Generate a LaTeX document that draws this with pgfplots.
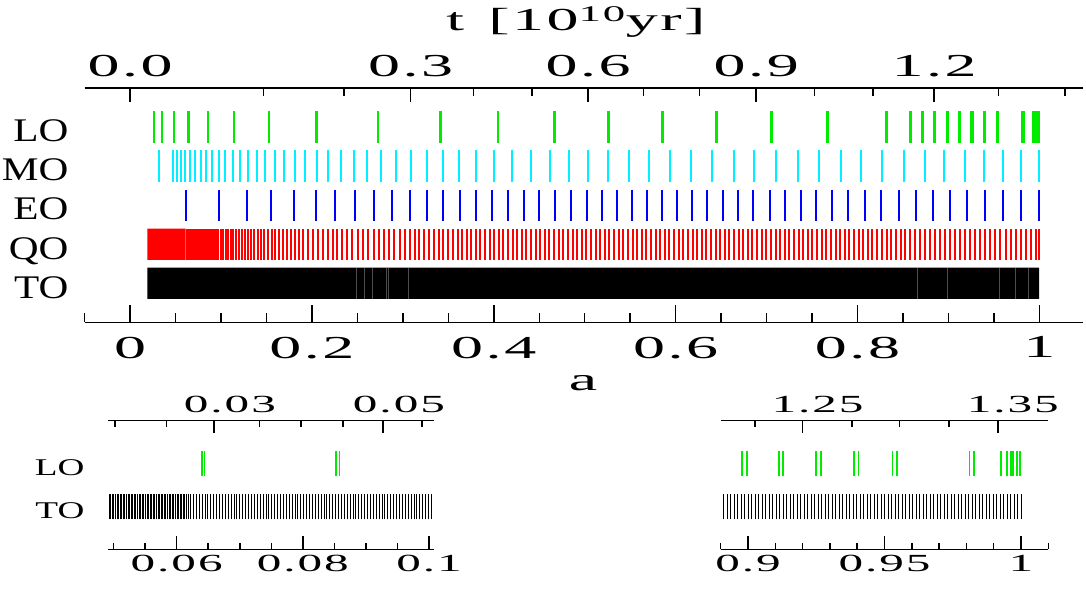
\documentclass[border=0pt]{standalone}
\usepackage{fontspec}
\setmainfont{Liberation Serif}
\newfontfamily\tickfont[FakeStretch=2,LetterSpace=8]{Liberation Serif}
\newfontfamily\labfont[FakeStretch=1.25]{Liberation Serif}
\newfontfamily\slabfont[FakeStretch=1.55]{Liberation Serif}
\usepackage{pgfplots}
\usepackage{pgfplotstable}
\pgfplotsset{compat=1.18}
\definecolor{cgreen}{RGB}{0,235,0}
\definecolor{ccyan}{RGB}{0,240,255}
\definecolor{cblue}{RGB}{0,0,255}
\definecolor{cred}{RGB}{255,0,0}

% ---------- main panel data (scale factor a) ----------
\pgfplotstableread[header=false,row sep=\\]{
0.0262\\0.0266\\0.0351\\0.0355\\0.0479\\0.0483\\0.0640\\0.0644\\0.0853\\0.0858\\
0.1139\\0.1145\\0.1528\\0.1534\\0.2045\\0.2053\\0.2725\\0.2733\\0.3407\\0.3417\\
0.4042\\0.4052\\0.4659\\0.4669\\0.5251\\0.5263\\0.5851\\0.5863\\0.6446\\0.6458\\
0.7051\\0.7065\\0.7668\\0.7682\\0.8314\\0.8328\\0.8574\\0.8590\\0.8703\\0.8719\\
0.8839\\0.8855\\0.8979\\0.8995\\0.9114\\0.9129\\0.9250\\0.9266\\0.9389\\0.9405\\
0.9529\\0.9547\\0.9811\\0.9828\\0.9928\\0.9950\\0.9962\\0.9972\\0.9984\\0.9996\\
}\LOdata

\pgfplotstableread[header=false,row sep=\\]{
0.0319\\0.0477\\0.0514\\0.0559\\0.0606\\0.0661\\0.0716\\0.0775\\0.0837\\0.0903\\
0.0973\\0.1047\\0.1127\\0.1212\\0.1294\\0.1391\\0.1487\\0.1590\\0.1697\\0.1812\\
0.1928\\0.2055\\0.2181\\0.2321\\0.2460\\0.2608\\0.2765\\0.2923\\0.3085\\0.3261\\
0.3437\\0.3621\\0.3809\\0.4002\\0.4205\\0.4407\\0.4613\\0.4829\\0.5038\\0.5252\\
0.5483\\0.5707\\0.5935\\0.6169\\0.6401\\0.6640\\0.6867\\0.7103\\0.7345\\0.7572\\
0.7814\\0.8042\\0.8270\\0.8508\\0.8740\\0.8953\\0.9180\\0.9390\\0.9603\\0.9794\\
0.9996\\
}\MOdata

\pgfplotstableread[header=false,row sep=\\]{
0.0614\\0.0977\\0.1281\\0.1553\\0.1807\\0.2041\\0.2255\\0.2475\\0.2685\\0.2883\\
0.3074\\0.3261\\0.3445\\0.3628\\0.3809\\0.3985\\0.4157\\0.4330\\0.4498\\0.4671\\
0.4847\\0.5020\\0.5186\\0.5351\\0.5516\\0.5685\\0.5850\\0.6015\\0.6180\\0.6346\\
0.6519\\0.6687\\0.6856\\0.7036\\0.7202\\0.7374\\0.7546\\0.7723\\0.7899\\0.8079\\
0.8263\\0.8453\\0.8640\\0.8828\\0.9019\\0.9207\\0.9397\\0.9596\\0.9794\\0.9996\\
}\EOdata

\pgfplotstableread[header=false,row sep=\\]{
0.0624\\0.0643\\0.0661\\0.0679\\0.0698\\0.0720\\0.0742\\0.0764\\0.0786\\0.0808\\
0.0830\\0.0852\\0.0874\\0.0896\\0.0918\\0.0944\\0.0969\\0.0995\\0.1021\\0.1050\\
0.1076\\0.1105\\0.1135\\0.1164\\0.1193\\0.1227\\0.1260\\0.1293\\0.1330\\0.1366\\
0.1403\\0.1440\\0.1476\\0.1517\\0.1557\\0.1597\\0.1642\\0.1682\\0.1726\\0.1770\\
0.1814\\0.1858\\0.1906\\0.1953\\0.2008\\0.2065\\
0.2123\\0.2174\\0.2229\\0.2280\\0.2336\\0.2391\\0.2446\\0.2508\\0.2563\\0.2618\\
0.2681\\0.2736\\0.2795\\0.2853\\0.2908\\0.2967\\0.3022\\0.3077\\0.3129\\0.3180\\
0.3235\\0.3287\\0.3342\\0.3393\\0.3445\\0.3500\\0.3551\\0.3602\\0.3654\\0.3702\\
0.3753\\0.3804\\0.3852\\0.3904\\0.3955\\0.4006\\0.4054\\
0.4105\\0.4156\\0.4206\\0.4257\\0.4308\\0.4359\\0.4409\\0.4460\\0.4511\\0.4562\\
0.4612\\0.4663\\0.4714\\0.4765\\0.4815\\0.4866\\0.4917\\0.4968\\0.5018\\0.5069\\
0.5120\\0.5171\\0.5221\\0.5272\\0.5323\\0.5374\\0.5424\\0.5475\\0.5526\\0.5577\\
0.5627\\0.5678\\0.5729\\0.5780\\0.5830\\0.5881\\0.5932\\0.5983\\0.6033\\0.6084\\
0.6135\\0.6186\\0.6236\\0.6287\\0.6338\\0.6389\\0.6439\\0.6490\\0.6541\\0.6592\\
0.6642\\0.6693\\0.6744\\0.6795\\0.6845\\0.6896\\0.6947\\0.6998\\0.7048\\0.7099\\
0.7150\\0.7201\\0.7251\\0.7302\\0.7353\\0.7404\\0.7454\\0.7505\\0.7556\\0.7607\\
0.7657\\0.7708\\0.7759\\0.7810\\0.7860\\0.7911\\0.7962\\0.8013\\
0.8064\\0.8112\\0.8163\\0.8215\\0.8270\\0.8321\\0.8373\\0.8424\\0.8476\\0.8527\\
0.8582\\0.8634\\0.8685\\0.8740\\0.8795\\0.8850\\0.8905\\0.8960\\0.9015\\0.9070\\
0.9126\\0.9181\\0.9236\\0.9291\\0.9346\\0.9401\\0.9456\\0.9511\\0.9570\\0.9629\\
0.9684\\0.9739\\0.9798\\0.9853\\0.9908\\0.9967\\0.9996\\
}\QOdata

\pgfplotstableread[header=false,row sep=\\]{
0.2490\\0.2570\\0.2666\\0.2813\\0.2835\\0.3059\\0.8659\\0.8987\\0.9555\\0.9739\\0.9879\\
}\TOgaps

% ---------- inset data ----------
\pgfplotstableread[header=false,row sep=\\]{
0.0640\\0.0644\\0.0853\\0.0858\\
}\LOleft

\pgfplotstableread[header=false,row sep=\\]{
0.04930\\0.04955\\0.04980\\0.05005\\0.05030\\0.05055\\0.05080\\0.05105\\0.05130\\0.05155\\
0.05180\\0.05205\\0.05230\\0.05255\\0.05280\\0.05305\\0.05330\\0.05355\\0.05380\\0.05405\\
0.05430\\0.05455\\0.05480\\0.05505\\0.05530\\0.05555\\0.05580\\0.05605\\0.05630\\0.05655\\
0.05680\\0.05705\\0.05730\\0.05755\\0.05780\\0.05805\\0.05830\\0.05855\\0.05880\\0.05905\\
0.05930\\0.05955\\0.05980\\0.06005\\0.06030\\0.06055\\0.06080\\0.06105\\0.06130\\0.06155\\
0.06180\\
0.06220\\0.06266\\0.06312\\0.06358\\0.06404\\0.06450\\0.06496\\0.06542\\0.06588\\0.06634\\
0.06680\\0.06726\\0.06772\\0.06818\\0.06864\\0.06910\\0.06956\\0.07002\\0.07048\\0.07094\\
0.07140\\0.07186\\0.07232\\0.07278\\0.07324\\0.07370\\0.07416\\0.07462\\0.07508\\0.07554\\
0.07600\\0.07646\\0.07692\\0.07738\\0.07784\\0.07830\\0.07876\\0.07922\\0.07968\\0.08014\\
0.08060\\0.08106\\0.08152\\0.08198\\0.08244\\0.08290\\0.08336\\0.08382\\0.08428\\0.08474\\
0.08520\\0.08566\\0.08612\\0.08658\\0.08704\\0.08750\\0.08796\\0.08842\\0.08888\\0.08934\\
0.08980\\0.09026\\0.09072\\0.09118\\0.09164\\0.09210\\0.09256\\0.09302\\0.09348\\0.09394\\
0.09440\\0.09486\\0.09532\\0.09578\\0.09624\\0.09670\\0.09716\\0.09762\\0.09808\\0.09854\\
0.09900\\0.09946\\0.09992\\0.10038\\
}\TOleft

\pgfplotstableread[header=false,row sep=\\]{
0.8979\\0.8995\\0.9114\\0.9129\\0.9250\\0.9266\\0.9389\\0.9405\\0.9529\\0.9547\\
0.9811\\0.9828\\0.9928\\0.9950\\0.9962\\0.9972\\0.9984\\0.9996\\
}\LOright

\pgfplotstableread[header=false,row sep=\\]{
0.89120\\0.89248\\0.89376\\0.89504\\0.89632\\0.89760\\0.89888\\0.90016\\0.90144\\0.90272\\
0.90400\\0.90528\\0.90656\\0.90784\\0.90912\\0.91040\\0.91168\\0.91296\\0.91424\\0.91552\\
0.91680\\0.91808\\0.91936\\0.92064\\0.92192\\0.92320\\0.92448\\0.92576\\0.92704\\0.92832\\
0.92960\\0.93088\\0.93216\\0.93344\\0.93472\\0.93600\\0.93728\\0.93856\\0.93984\\0.94112\\
0.94240\\0.94368\\0.94496\\0.94624\\0.94752\\0.94880\\0.95008\\0.95136\\0.95264\\0.95392\\
0.95520\\0.95648\\0.95776\\0.95904\\0.96032\\0.96160\\0.96288\\0.96416\\0.96544\\0.96672\\
0.96800\\0.96928\\0.97056\\0.97184\\0.97312\\0.97440\\0.97568\\0.97696\\0.97824\\0.97952\\
0.98080\\0.98208\\0.98336\\0.98464\\0.98592\\0.98720\\0.98848\\0.98976\\0.99104\\0.99232\\
0.99360\\0.99488\\0.99616\\0.99744\\0.99872\\1.00000\\
}\TOright

\pgfplotsset{
  panel/.style={scale only axis, axis y line=none, ytick=\empty, ymin=0,
    clip=false, xtick align=inside,
    axis line style={line width=1.5pt, black},
    tick style={line width=1.5pt, black}},
  bigticks/.style={xticklabel style={font={\tickfont\fontsize{32}{36}\selectfont}}},
  smallticks/.style={xticklabel style={font={\tickfont\fontsize{24.6}{28}\selectfont}}},
  % vertical event line of given length, starting at the row base
  seg/.style={quiver={u=0, v=#1}},
}
\newcommand{\lab}{\labfont\fontsize{33}{36}\selectfont}
\newcommand{\slab}{\slabfont\fontsize{24}{26}\selectfont}

\begin{document}
\begin{tikzpicture}
\path[use as bounding box] (0,0) rectangle (1086pt,590pt);

% ===== main panel, bottom axis (a) =====
\begin{axis}[panel, bigticks,
  at={(84.6pt,267.7pt)}, anchor=south west,
  width=998.4pt, height=234.3pt,
  xmin=-0.05, xmax=1.048, ymax=6,
  axis x line*=bottom,
  xtick={0,0.2,0.4,0.6,0.8,1}, xticklabels={0,0.2,0.4,0.6,0.8,1},
  minor xtick={-0.05,0.05,0.1,0.15,0.25,0.3,0.35,0.45,0.5,0.55,0.65,0.7,0.75,0.85,0.9,0.95},
  major tick length=17pt, minor tick length=9pt,
  xticklabel style={yshift=-11pt},
]
\addplot[fill=black, draw=none] coordinates {(0.019,0.6) (0.9996,0.6) (0.9996,1.4) (0.019,1.4) (0.019,0.6)};
\addplot[seg=0.8, draw=black!70, line width=0.4pt] table[x index=0, y index=0, y expr=0.6] {\TOgaps};
\addplot[fill=cred, draw=none] coordinates {(0.019,1.6) (0.061,1.6) (0.061,2.4) (0.019,2.4) (0.019,1.6)};
\addplot[seg=0.8, draw=cred, line width=2pt] table[x index=0, y index=0, y expr=1.6] {\QOdata};
\addplot[seg=0.8, draw=cblue, line width=2pt] table[x index=0, y index=0, y expr=2.6] {\EOdata};
\addplot[seg=0.8, draw=ccyan, line width=2pt] table[x index=0, y index=0, y expr=3.6] {\MOdata};
\addplot[seg=0.8, draw=cgreen, line width=1.8pt] table[x index=0, y index=0, y expr=4.6] {\LOdata};
\node[anchor=base east, font=\lab, xshift=-12.6pt] at (axis cs:-0.05,4.62) {LO};
\node[anchor=base east, font=\lab, xshift=-12.6pt] at (axis cs:-0.05,3.62) {MO};
\node[anchor=base east, font=\lab, xshift=-12.6pt] at (axis cs:-0.05,2.62) {EO};
\node[anchor=base east, font=\lab, xshift=-12.6pt] at (axis cs:-0.05,1.62) {QO};
\node[anchor=base east, font=\lab, xshift=-12.6pt] at (axis cs:-0.05,0.62) {TO};
\end{axis}

% ===== main panel, top axis (t) =====
\begin{axis}[panel, bigticks,
  at={(84.6pt,267.7pt)}, anchor=south west,
  width=998.4pt, height=234.3pt,
  xmin=-0.05, xmax=1.048, ymax=6,
  axis x line*=top,
  xtick={0,0.3085,0.5038,0.6886,0.8843}, xticklabels={0.0,0.3,0.6,0.9,1.2},
  minor xtick={0.1469,0.2350,0.3775,0.4418,0.5648,0.6261,0.7528,0.8171,0.9548,1.0282},
  major tick length=14pt, minor tick length=8pt,
  xticklabel style={yshift=7.4pt},
]
\end{axis}

\node[anchor=base, font={\tickfont\fontsize{32}{36}\selectfont}] at (576pt,559pt) {t\hspace{24pt}[10\textsuperscript{10}yr]};
\node[anchor=base, font={\tickfont\fontsize{32}{36}\selectfont}] at (583pt,200pt) {a};

% ===== left inset =====
\begin{axis}[panel, smallticks,
  at={(108.3pt,40.7pt)}, anchor=south west,
  width=325.7pt, height=128.6pt,
  xmin=0.04916, xmax=0.10079, ymax=3,
  axis x line*=bottom,
  xtick={0.06,0.08,0.1}, xticklabels={0.06,0.08,0.1},
  minor xtick={0.05,0.055,0.065,0.07,0.075,0.085,0.09,0.095},
  major tick length=13pt, minor tick length=6pt,
  xticklabel style={yshift=-2.6pt},
]
\addplot[seg=0.6, draw=black, line width=1pt] table[x index=0, y index=0, y expr=0.7] {\TOleft};
\addplot[seg=0.6, draw=cgreen, line width=1.8pt] table[x index=0, y index=0, y expr=1.7] {\LOleft};
\node[anchor=base east, font=\slab, xshift=-20.4pt] at (axis cs:0.04916,1.72) {LO};
\node[anchor=base east, font=\slab, xshift=-20.4pt] at (axis cs:0.04916,0.71) {TO};
\end{axis}
\begin{axis}[panel, smallticks,
  at={(108.3pt,40.7pt)}, anchor=south west,
  width=325.7pt, height=128.6pt,
  xmin=0.04916, xmax=0.10079, ymax=3,
  axis x line*=top,
  xtick={0.0659,0.0927}, xticklabels={0.03,0.05},
  minor xtick={0.0502,0.0584,0.0731,0.0797,0.0864,0.0989},
  major tick length=12pt, minor tick length=6pt,
  xticklabel style={yshift=4.2pt, xshift=16pt},
]
\end{axis}

% ===== right inset =====
\begin{axis}[panel, smallticks,
  at={(720.7pt,40.7pt)}, anchor=south west,
  width=327.6pt, height=128.6pt,
  xmin=0.89, xmax=1.01, ymax=3,
  axis x line*=bottom,
  xtick={0.9,0.95,1}, xticklabels={0.9,0.95,1},
  minor xtick={0.89,0.91,0.92,0.93,0.94,0.96,0.97,0.98,0.99,1.01},
  major tick length=13pt, minor tick length=6pt,
  xticklabel style={yshift=-2.6pt},
]
\addplot[seg=0.6, draw=black, line width=1pt] table[x index=0, y index=0, y expr=0.7] {\TOright};
\addplot[seg=0.6, draw=cgreen, line width=1.8pt] table[x index=0, y index=0, y expr=1.7] {\LOright};
\end{axis}
\begin{axis}[panel, smallticks,
  at={(720.7pt,40.7pt)}, anchor=south west,
  width=327.6pt, height=128.6pt,
  xmin=0.89, xmax=1.01, ymax=3,
  axis x line*=top,
  xtick={0.9200,0.9915}, xticklabels={1.25,1.35},
  minor xtick={0.9026,0.9380,0.9554,0.9737},
  major tick length=12pt, minor tick length=6pt,
  xticklabel style={yshift=4.2pt, xshift=15pt},
]
\end{axis}
\end{tikzpicture}
\end{document}
